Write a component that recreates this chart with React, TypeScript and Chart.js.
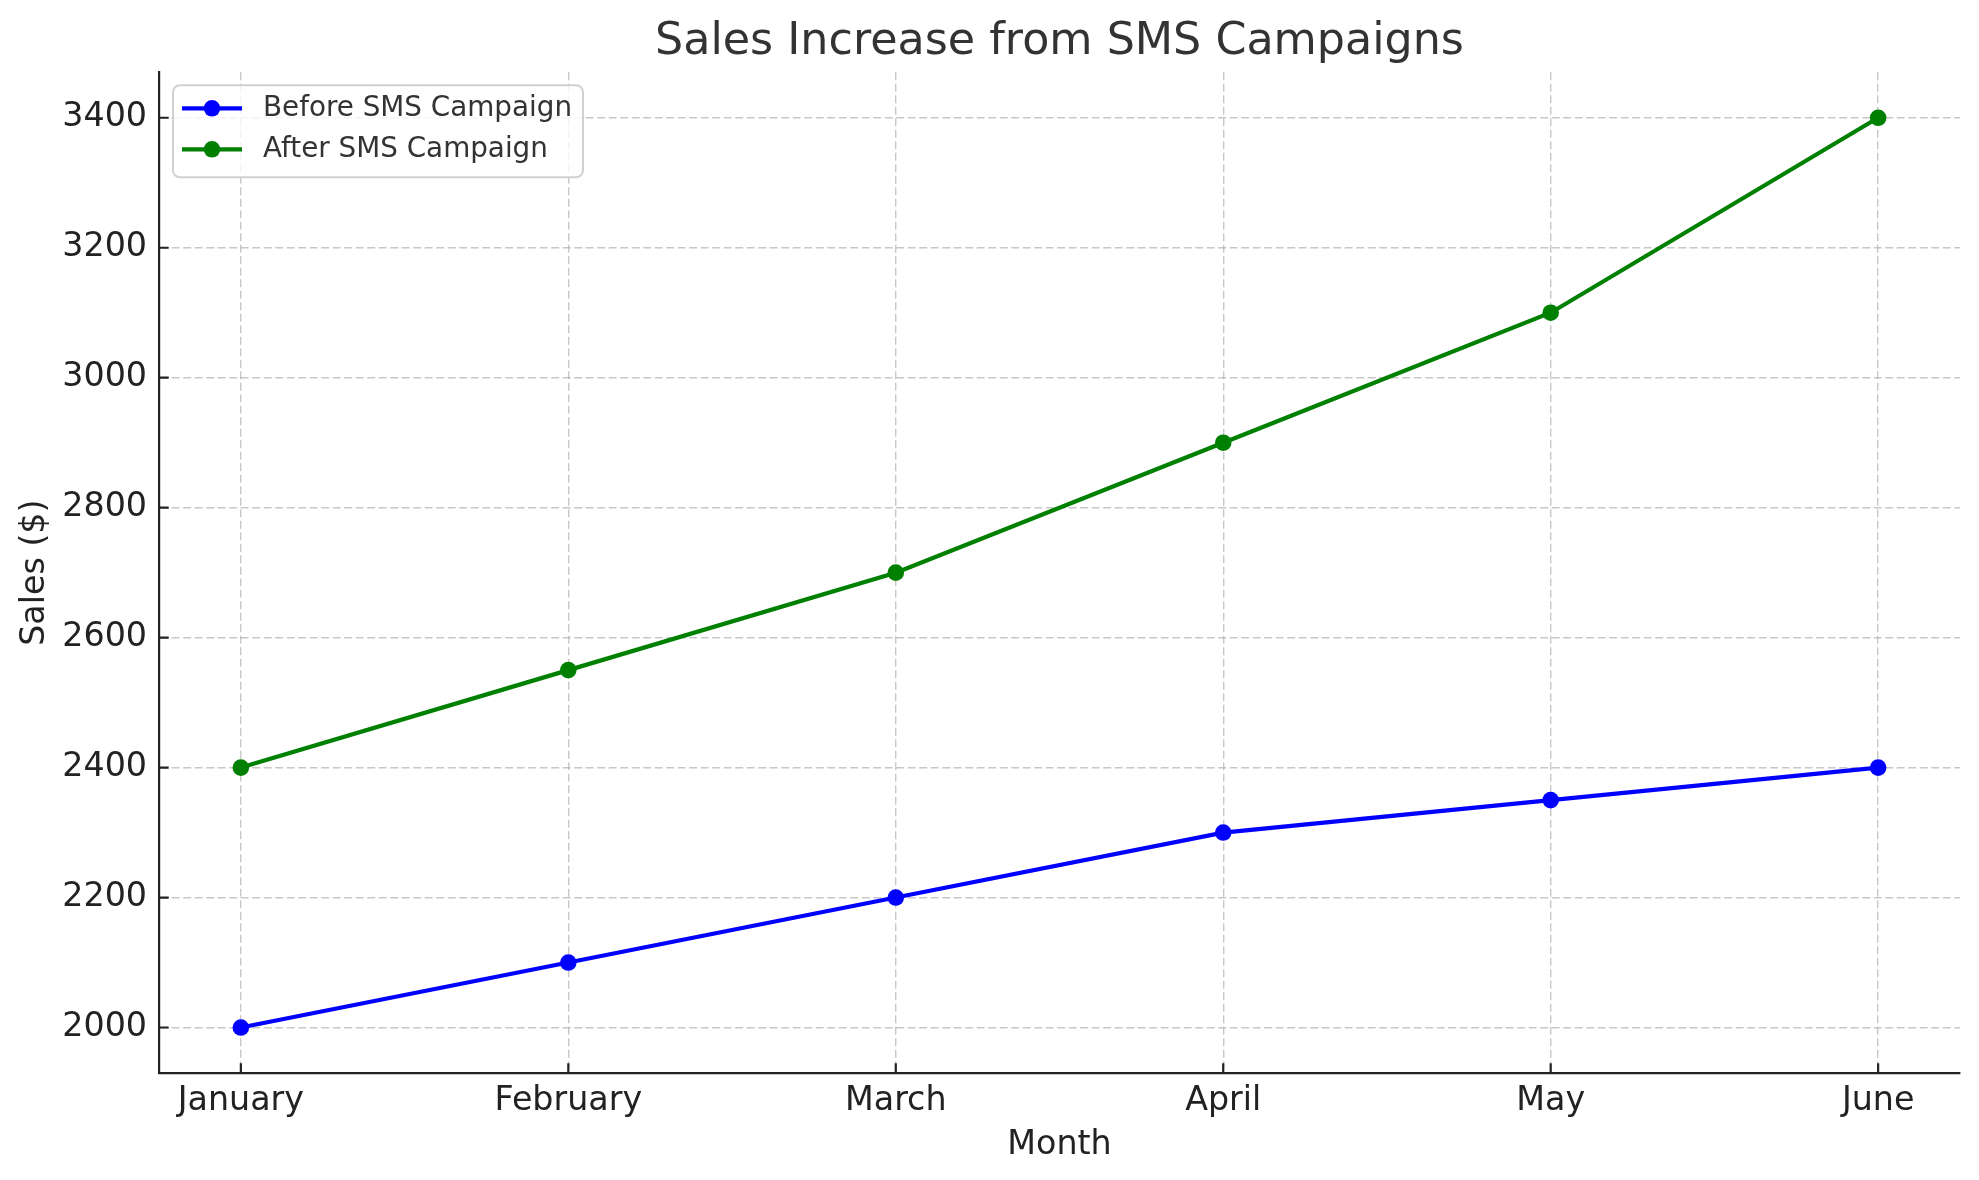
import React, { useEffect, useRef } from "react";
import { Chart, registerables } from "chart.js";

Chart.register(...registerables);

const months = ["January", "February", "March", "April", "May", "June"];
const beforeSales = [2000, 2100, 2200, 2300, 2350, 2400];
const afterSales = [2400, 2550, 2700, 2900, 3100, 3400];
const yTicks = [2000, 2200, 2400, 2600, 2800, 3000, 3200, 3400];
const seriesLabels = ["Before SMS Campaign", "After SMS Campaign"];
const seriesColors = ["#0000ff", "#008000"];
const titleText = "Sales Increase from SMS Campaigns";
const xTitle = "Month";
const yTitle = "Sales ($)";

const W = 1979;
const H = 1180;
const FONT = "'DejaVu Sans', 'Liberation Sans', sans-serif";
const PLOT_LEFT = 159;
const PLOT_BOTTOM = 1073;

export default function App() {
  const ref = useRef<HTMLCanvasElement>(null);

  useEffect(() => {
    document.body.style.margin = "0";
    const canvas = ref.current;
    if (!canvas) return;

    const innerTicks = {
      id: "innerTicks",
      beforeDatasetsDraw(chart: any) {
        const ctx = chart.ctx;
        const { left, bottom } = chart.chartArea;
        const xs = chart.scales.x;
        const ys = chart.scales.y;
        ctx.save();
        ctx.strokeStyle = "#222222";
        ctx.lineWidth = 2.2;
        ctx.setLineDash([]);
        ctx.beginPath();
        xs.ticks.forEach((t: any) => {
          const px = xs.getPixelForValue(t.value);
          ctx.moveTo(px, bottom);
          ctx.lineTo(px, bottom - 9.7);
        });
        ys.ticks.forEach((t: any) => {
          const py = ys.getPixelForValue(t.value);
          ctx.moveTo(left, py);
          ctx.lineTo(left + 9.7, py);
        });
        ctx.stroke();
        ctx.restore();
      },
    };

    const innerLegend = {
      id: "innerLegend",
      afterDraw(chart: any) {
        const ctx = chart.ctx;
        const { left, top } = chart.chartArea;
        const bx = left + 14;
        const by = top + 13;
        const bw = 410;
        const bh = 92;
        ctx.save();
        ctx.beginPath();
        ctx.roundRect(bx, by, bw, bh, 7);
        ctx.fillStyle = "rgba(255,255,255,0.8)";
        ctx.fill();
        ctx.strokeStyle = "rgba(204,204,204,0.9)";
        ctx.lineWidth = 2;
        ctx.stroke();
        chart.data.datasets.forEach((ds: any, i: number) => {
          const ry = top + 36 + i * 41;
          ctx.strokeStyle = ds.borderColor;
          ctx.lineWidth = 4.2;
          ctx.beginPath();
          ctx.moveTo(left + 23, ry);
          ctx.lineTo(left + 83, ry);
          ctx.stroke();
          ctx.fillStyle = ds.borderColor;
          ctx.beginPath();
          ctx.arc(left + 53, ry, 8.3, 0, Math.PI * 2);
          ctx.fill();
          ctx.fillStyle = "#333333";
          ctx.font = `27.8px ${FONT}`;
          ctx.textBaseline = "middle";
          ctx.textAlign = "left";
          ctx.fillText(ds.label, left + 104, ry);
        });
        ctx.restore();
      },
    };

    const makeSeries = (vals: number[]) => vals.map((v, i) => ({ x: i, y: v }));

    const chart = new Chart(canvas, {
      type: "line",
      data: {
        datasets: [
          {
            label: seriesLabels[0],
            data: makeSeries(beforeSales),
            borderColor: seriesColors[0],
            backgroundColor: seriesColors[0],
            pointBackgroundColor: seriesColors[0],
            borderWidth: 4.2,
            pointRadius: 8.3,
            pointBorderWidth: 0,
            tension: 0,
          },
          {
            label: seriesLabels[1],
            data: makeSeries(afterSales),
            borderColor: seriesColors[1],
            backgroundColor: seriesColors[1],
            pointBackgroundColor: seriesColors[1],
            borderWidth: 4.2,
            pointRadius: 8.3,
            pointBorderWidth: 0,
            tension: 0,
          },
        ],
      },
      plugins: [innerTicks, innerLegend],
      options: {
        responsive: false,
        animation: false,
        devicePixelRatio: 1,
        layout: { padding: { left: 0, right: 19, top: 0, bottom: 0 } },
        font: { family: FONT },
        plugins: {
          legend: { display: false },
          tooltip: { enabled: false },
          title: {
            display: true,
            text: titleText,
            fullSize: false,
            color: "#333333",
            font: { family: FONT, size: 44.4, weight: "normal" },
            padding: { top: 16, bottom: 3 },
          },
        },
        scales: {
          x: {
            type: "linear",
            min: -0.25,
            max: 5.25,
            afterBuildTicks(scale: any) {
              scale.ticks = months.map((_, i) => ({ value: i }));
            },
            afterFit(scale: any) {
              scale.height = H - PLOT_BOTTOM;
            },
            ticks: {
              autoSkip: false,
              maxRotation: 0,
              padding: 8,
              color: "#222222",
              font: { family: FONT, size: 33.3 },
              callback: (v: any) => months[Math.round(Number(v))] ?? "",
            },
            grid: {
              color: "rgba(176,176,176,0.7)",
              lineWidth: 1.4,
              drawTicks: false,
              tickLength: 0,
            },
            border: { display: true, color: "#222222", width: 2.2, dash: [8, 3.5] },
            title: {
              display: true,
              text: xTitle,
              color: "#222222",
              font: { family: FONT, size: 33.3 },
              padding: { top: 15, bottom: 15 },
            },
          },
          y: {
            type: "linear",
            min: 1930,
            max: 3470,
            afterBuildTicks(scale: any) {
              scale.ticks = yTicks.map((v) => ({ value: v }));
            },
            afterFit(scale: any) {
              scale.width = PLOT_LEFT;
            },
            ticks: {
              padding: 12,
              color: "#222222",
              font: { family: FONT, size: 33.3 },
              callback: (v: any) => String(v),
            },
            grid: {
              color: "rgba(176,176,176,0.7)",
              lineWidth: 1.4,
              drawTicks: false,
              tickLength: 0,
            },
            border: { display: true, color: "#222222", width: 2.2, dash: [8, 3.5] },
            title: {
              display: true,
              text: yTitle,
              color: "#222222",
              font: { family: FONT, size: 33.3 },
              padding: { top: 15, bottom: 15 },
            },
          },
        },
      },
    } as any);

    return () => chart.destroy();
  }, []);

  return (
    <div style={{ position: "absolute", left: 0, top: 0, width: W, height: H, background: "#ffffff" }}>
      <canvas ref={ref} width={W} height={H} style={{ display: "block" }} />
    </div>
  );
}
